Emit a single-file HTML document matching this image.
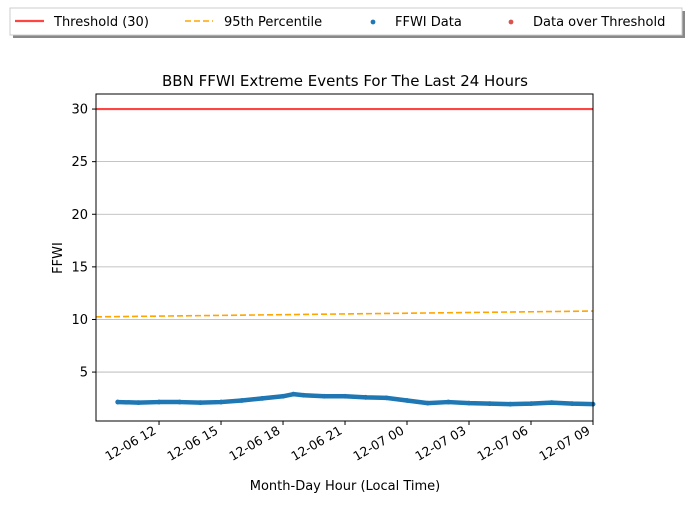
<!DOCTYPE html>
<html><head><meta charset="utf-8"><style>
body{margin:0;background:#fff;width:690px;height:503px;overflow:hidden}
svg{font-family:"DejaVu Sans","Liberation Sans",sans-serif}
</style></head><body>
<svg id="c" width="690" height="503">
<g>
<rect x="13" y="11" width="672" height="27" fill="#888"/>
<rect x="10" y="8" width="672" height="27" fill="#fff" stroke="#ccc"/>
<line x1="15" y1="21" x2="44" y2="21" stroke="#ff4444" stroke-width="2.2"/>
<text x="54" y="26" font-size="13">Threshold (30)</text>
<line x1="185" y1="21" x2="213" y2="21" stroke="orange" stroke-width="1.6" stroke-dasharray="6,3"/>
<text x="224" y="26" font-size="13">95th Percentile</text>
<circle cx="373" cy="22" r="2.4" fill="#1f77b4"/>
<text x="395" y="26" font-size="13">FFWI Data</text>
<circle cx="511" cy="22" r="2.4" fill="#d9534f"/>
<text x="533" y="26" font-size="13">Data over Threshold</text>
</g>
<text x="345" y="86" font-size="15" text-anchor="middle">BBN FFWI Extreme Events For The Last 24 Hours</text>
<text x="345" y="490" font-size="13" text-anchor="middle">Month-Day Hour (Local Time)</text>
<text transform="translate(62,258) rotate(-90)" font-size="13" text-anchor="middle">FFWI</text>
<g id="plot"></g>
</svg>
<script>
const hours=[10,11,12,13,14,15,16,17,18,18.5,19,20,21,22,23,24,25,26,27,28,29,30,31,32,33];
const ffwi=[2.15,2.1,2.15,2.15,2.1,2.15,2.3,2.5,2.7,2.9,2.8,2.7,2.7,2.6,2.55,2.3,2.05,2.15,2.05,2.0,1.95,2.0,2.1,2.0,1.95];
const pctHours=[8.95,33];
const pctValues=[10.25,10.8];
const threshold=30;
const yTicks=[5,10,15,20,25,30];
const xTickHours=[12,15,18,21,24,27,30,33];
const xTickLabels=["12-06 12","12-06 15","12-06 18","12-06 21","12-07 00","12-07 03","12-07 06","12-07 09"];
const L=96,R=593,T=94,B=421;
const xMin=8.95,xMax=33,yMin=0.35,yMax=31.43;
const X=h=>L+(h-xMin)/(xMax-xMin)*(R-L);
const Y=v=>B-(v-yMin)/(yMax-yMin)*(B-T);
const g=document.getElementById('plot');
const NS='http://www.w3.org/2000/svg';
function mk(t,a){const e=document.createElementNS(NS,t);for(const k in a)e.setAttribute(k,a[k]);g.appendChild(e);return e;}
yTicks.forEach((v,i)=>{
 const gl=mk('line',{x1:L,x2:R,y1:Y(v),y2:Y(v),stroke:'#b0b0b0','stroke-width':0.8});
 
 
 const tk=mk('line',{x1:L-4,x2:L,y1:Y(v),y2:Y(v),stroke:'#000'});
 
 
 const t=mk('text',{x:L-8,y:Y(v)+4.5,'font-size':13,'text-anchor':'end'});t.textContent=v;
 
 
});
xTickHours.forEach((h,i)=>{
 const tk=mk('line',{x1:X(h),x2:X(h),y1:B,y2:B+4,stroke:'#000'});
 
 
 const t=mk('text',{transform:`translate(${X(h)-2},${B+12}) rotate(-30)`,'font-size':12.5,'text-anchor':'end'});t.textContent=xTickLabels[i];
 
 
});
const th=mk('line',{x1:L,x2:R,y1:Y(threshold),y2:Y(threshold),stroke:'#ff4444','stroke-width':2.2});


const pc=mk('polyline',{points:pctHours.map((h,i)=>X(h)+','+Y(pctValues[i])).join(' '),fill:'none',stroke:'orange','stroke-width':1.6,'stroke-dasharray':'6,3'});


const dl=mk('polyline',{points:hours.map((h,i)=>X(h)+','+Y(ffwi[i])).join(' '),fill:'none',stroke:'#1f77b4','stroke-width':4.5,'stroke-linejoin':'round','stroke-linecap':'round'});


hours.forEach((h,i)=>{
 const c=mk('circle',{cx:X(h),cy:Y(ffwi[i]),r:2.4,fill:'#1f77b4'});
 
 
});
const fr=mk('rect',{x:L,y:T,width:R-L,height:B-T,fill:'none',stroke:'#000','stroke-width':1});


</script>
</body></html>
